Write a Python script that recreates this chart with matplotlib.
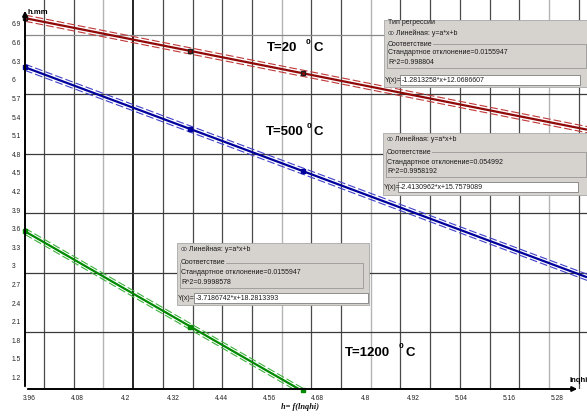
import matplotlib
matplotlib.use("Agg")
import matplotlib.pyplot as plt
import numpy as np
from matplotlib.patches import Rectangle, Circle
from matplotlib.transforms import ScaledTranslation

plt.rcParams['font.family'] = ['Liberation Sans', 'DejaVu Sans']

# ---------------- data ----------------
x_points = [3.96, 4.372, 4.655]
h_T20 = [6.995, 6.47, 6.105]
h_T500 = [6.202, 5.21, 4.535]
h_T1200 = [3.555, 2.02, 0.99]

coef_T20 = (-1.2813258, 12.0686607)
coef_T500 = (-2.4130962, 15.7579089)
coef_T1200 = (-3.7186742, 18.2813393)

x_range_T20 = (3.96, 5.3636)
x_range_T500 = (3.96, 5.3636)
x_range_T1200 = (3.96, 4.655)

band = 0.05

x_ticks = [3.96, 4.08, 4.2, 4.32, 4.44, 4.56, 4.68, 4.8, 4.92, 5.04, 5.16, 5.28]
y_ticks = [1.2, 1.5, 1.8, 2.1, 2.4, 2.7, 3.0, 3.3, 3.6, 3.9, 4.2, 4.5, 4.8,
           5.1, 5.4, 5.7, 6.0, 6.3, 6.6, 6.9]

fit_info = [
    dict(std="0.0155947", r2="0.998804", eq="-1.2813258*x+12.0686607"),
    dict(std="0.054992", r2="0.9958192", eq="-2.4130962*x+15.7579089"),
    dict(std="0.0155947", r2="0.9998578", eq="-3.7186742*x+18.2813393"),
]

# ---------------- figure ----------------
W, H = 587, 418
fig = plt.figure(figsize=(W / 100, H / 100), dpi=100)
fig.patch.set_facecolor('white')

ax_left, ax_bottom_px, ax_top_px = 25, 389, 0
ax = fig.add_axes([ax_left / W, (H - ax_bottom_px) / H, (W - ax_left) / W,
                   (ax_bottom_px - ax_top_px) / H])
xmin, xmax = 3.96, 3.96 + 562 / 400.4
ymax = 6.9 + 24 / 62.0
ymin = 6.9 - 365 / 62.0
ax.set_xlim(xmin, xmax)
ax.set_ylim(ymin, ymax)
for s in ax.spines.values():
    s.set_visible(False)
ax.set_facecolor('white')

# grid
vgrid_start, vgrid_step, vgrid_n = 4.0075, 0.07418, 19
hgrid_start, hgrid_step, hgrid_n = 6.7226, -0.958, 6
light_v = {2, 8, 11, 17}
for i in range(vgrid_n):
    gx = vgrid_start + i * vgrid_step
    if i == 3:
        c, lw = '#111111', 1.3
    elif i in light_v:
        c, lw = '#b4b4b4', 1.0
    else:
        c, lw = '#4a4a4a', 0.9
    ax.axvline(gx, color=c, lw=lw, zorder=1)
for i in range(hgrid_n):
    gy = hgrid_start + i * hgrid_step
    c = '#8a8a8a' if i == 0 else '#3a3a3a'
    ax.axhline(gy, color=c, lw=0.9, zorder=1)

# regression lines with bands
series = [
    (coef_T20, x_range_T20, h_T20, '#900808', '#c03838'),
    (coef_T500, x_range_T500, h_T500, '#00009c', '#4040c8'),
    (coef_T1200, x_range_T1200, h_T1200, '#008a00', '#40b040'),
]
for (a, b), (x0, x1), hp, cs, cd in series:
    xs = np.array([x0, x1])
    ys = a * xs + b
    ax.plot(xs, ys, color=cs, lw=1.6, zorder=4, solid_capstyle='butt')
    for off in (band, -band):
        ax.plot(xs, ys + off, color=cd, lw=0.8, dashes=(7, 2.7), zorder=3)
    ax.plot(x_points, hp, linestyle='none', marker='s', ms=3.2,
            color=cs, mec='#202020' if cs == '#900808' else cs, zorder=5,
            clip_on=False)

# axes lines with arrows
y_axis_top = 6.9 + 16 / 62.0
x_axis_right = 3.96 + 555 / 400.4
ax.annotate('', xy=(xmin, y_axis_top), xytext=(xmin, ymin),
            arrowprops=dict(arrowstyle='-|>', color='black', lw=1.4,
                            mutation_scale=7), zorder=6,
            annotation_clip=False)
ax.annotate('', xy=(x_axis_right, ymin), xytext=(xmin, ymin),
            arrowprops=dict(arrowstyle='-|>', color='black', lw=1.4,
                            mutation_scale=7), zorder=6,
            annotation_clip=False)

# ticks
ax.set_xticks(x_ticks)
ax.set_xticklabels(['%g' % v for v in x_ticks])
ax.set_yticks(y_ticks)
ax.set_yticklabels(['%g' % v for v in y_ticks])
ax.tick_params(axis='x', length=0, pad=4, labelsize=4.8, labelcolor='#222222')
ax.tick_params(axis='y', length=0, pad=0, labelsize=4.8, labelcolor='#222222')
for lab in ax.get_xticklabels():
    lab.set_transform(lab.get_transform() + ScaledTranslation(4 / 100, 0, fig.dpi_scale_trans))
for lab in ax.get_yticklabels():
    lab.set_horizontalalignment('left')
    lab.set_transform(lab.get_transform() + ScaledTranslation(-13 / 100, 0, fig.dpi_scale_trans))


# ---------------- helpers in pixel coords ----------------
def fx(px):
    return px / W


def fy(py):
    return 1 - py / H


def ftext(px, py, s, **kw):
    kw.setdefault('va', 'center')
    kw.setdefault('ha', 'left')
    return fig.text(fx(px), fy(py), s, **kw)


def frect(px0, py0, px1, py1, **kw):
    r = Rectangle((fx(px0), fy(py1)), (px1 - px0) / W, (py1 - py0) / H,
                  transform=fig.transFigure, **kw)
    fig.add_artist(r)
    return r


def radio(px, py):
    c = Circle((fx(px), fy(py)), 2.4 / W, transform=fig.transFigure,
               facecolor='white', edgecolor='#505050', lw=0.5, zorder=20)
    fig.add_artist(c)
    d = Circle((fx(px), fy(py)), 0.9 / W, transform=fig.transFigure,
               facecolor='black', edgecolor='none', zorder=21)
    fig.add_artist(d)


BOX = '#d6d3ce'
TXT = dict(fontsize=5, color='#1a1a1a', zorder=22)

# axis labels
ftext(28, 13, 'h.mm', fontsize=5.5, fontweight='bold', color='black')
ftext(569, 380, 'lnqhi', fontsize=5.5, fontweight='bold', color='black')
ftext(300, 407, 'h= f(lnqhi)', fontsize=6, fontweight='bold', style='italic',
      family='Liberation Serif', ha='center', color='#111111')


# temperature labels
def tlabel(px, py, num, px0, pxc):
    ftext(px, py, 'T=' + num, fontsize=9.5, fontweight='bold', color='black')
    ftext(px0, py - 6, '0', fontsize=6, fontweight='bold', color='black')
    ftext(pxc, py, 'C', fontsize=9.5, fontweight='bold', color='black')


tlabel(267, 48, '20', 306, 313)
tlabel(266, 132, '500', 307, 313)
tlabel(345, 353, '1200', 399, 406)


# regression dialog boxes
def dialog(x0, y0, x1, y1, info, title, yl, x_in0, x_in1):
    frect(x0, y0, x1, y1, facecolor=BOX, edgecolor='#a8a8a8', lw=0.6, zorder=15)
    tx = x0 + 4
    if title:
        ftext(tx, y0 + 3, title, **TXT)
    radio(x0 + 7, yl[0])
    ftext(x0 + 12, yl[0], 'Линейная: y=a*x+b', **TXT)
    frect(x0 + 3, yl[1], x1 - 6, yl[3] + 6, facecolor='none',
          edgecolor='#8c8c8c', lw=0.5, zorder=18)
    ftext(tx, yl[1], 'Соответствие', bbox=dict(facecolor=BOX, edgecolor='none', pad=0.3), **TXT)
    ftext(tx, yl[2], 'Стандартное отклонение=' + info['std'], **TXT)
    ftext(tx, yl[3], 'R^2=' + info['r2'], **TXT)
    ftext(x0 + 1, yl[4], 'Y(x)=', **TXT)
    frect(x_in0, yl[4] - 5, x_in1, yl[4] + 5, facecolor='white',
          edgecolor='#6a6a6a', lw=0.5, zorder=19)
    ftext(x_in0 + 2, yl[4], info['eq'], **TXT)


dialog(384, 20, 592, 87, fit_info[0], 'Тип регрессии', [33, 44, 53, 62, 80], 400, 580)
dialog(383, 133, 592, 195, fit_info[1], None, [139, 152, 162, 171, 187], 398, 578)
dialog(177, 243, 369, 305, fit_info[2], None, [249, 263, 272, 282, 298], 194, 368)

fig.savefig('out.png', dpi=100, facecolor='white')
